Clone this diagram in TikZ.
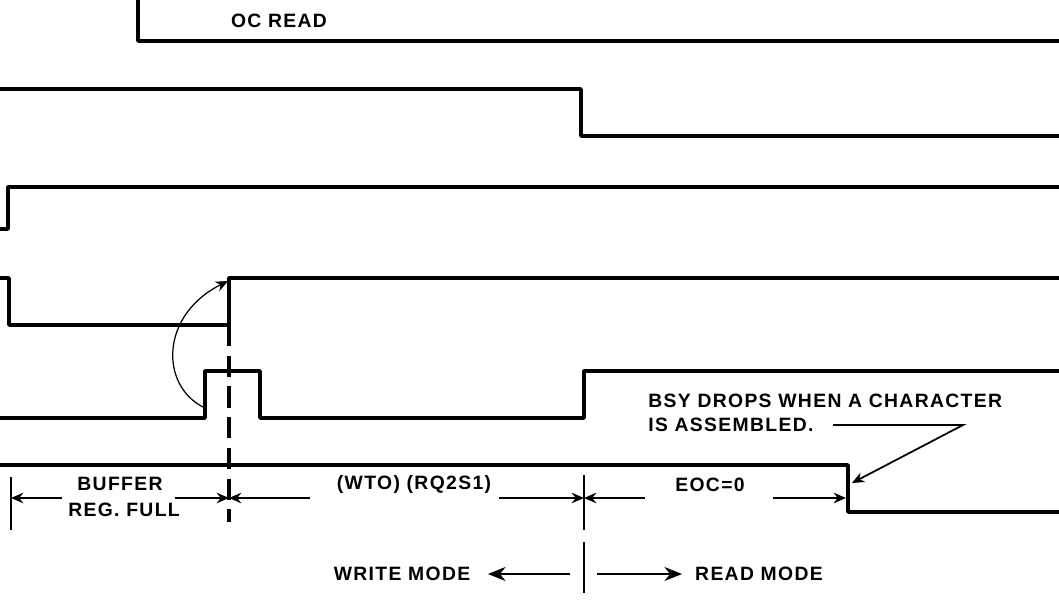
\documentclass[tikz,border=0pt]{standalone}
\usepackage{fontspec}
\setmainfont{Liberation Sans}[LetterSpace=7]
\usetikzlibrary{arrows.meta, positioning}

\begin{document}
\begin{tikzpicture}[x=0.02cm, y=-0.02cm, >={Stealth[length=7pt,width=6pt]},
  wave/.style={line width=2pt, line join=round},
  dim/.style={line width=1pt},
  modearrow/.style={line width=1pt, -{Stealth[length=10pt,width=8pt]}},
  every node/.style={font=\fontsize{11}{13}\selectfont\bfseries, inner sep=0pt}]
\useasboundingbox (0,0) rectangle (1059,602);
% signal lines
\draw[wave] (138,-2) -- (138,41) -- (1061,41);
\draw[wave] (-2,89) -- (581,89) -- (581,136) -- (1061,136);
\draw[wave] (-2,229) -- (8,229) -- (8,187) -- (1061,187);
\draw[wave] (-2,278) -- (9,278) -- (9,325) -- (229,325) -- (229,278) -- (1061,278);
\draw[wave] (-2,418) -- (205,418) -- (205,371) -- (260,371) -- (260,418) -- (584,418) -- (584,371) -- (1061,371);
\draw[wave] (-2,465) -- (848,465) -- (848,512) -- (1061,512);
\draw[wave, dash pattern=on 12pt off 5.5pt] (229,325) -- (229,522);
\node (ocread) at (279,21) {OC READ};
% cause of the rise
\coordinate (pulse) at (203,407);
\coordinate (rise) at (228,281);
\draw[line width=0.7pt, ->] (pulse) .. controls (160,385) and (160,315) .. (rise);
% intervals
\coordinate (t0) at (11,498);
\coordinate (t1) at (229,498);
\coordinate (t2) at (584,498);
\coordinate (t3) at (846,498);
\draw[dim] (11,477) -- (11,530);
\draw[dim] (584,475) -- (584,530);
\node (buf1) at (120,484) {BUFFER};
\node (buf2) at (124,510) {REG. FULL};
\node (wto) at (414,484) {(WTO) (RQ2S1)};
\node (eoc) at (710,485) {EOC=0};
\draw[dim, ->] (62,498) -- (t0);
\draw[dim, ->] (175,498) -- (t1);
\draw[dim, ->] (310,498) -- (t1);
\draw[dim, ->] (499,498) -- (t2);
\draw[dim, ->] (645,498) -- (t2);
\draw[dim, ->] (773,498) -- (t3);
% callout
\node[anchor=west] (bsy1) at (648,401) {BSY DROPS WHEN A CHARACTER};
\node[anchor=west] (bsy2) at (648,425) {IS ASSEMBLED.};
\coordinate (knee) at (963,425);
\coordinate (fall) at (852,483);
\draw[dim, ->] (833,425) -- (knee) -- (fall);
% modes
\draw[dim] (584,542) -- (584,593);
\node (write) at (402,574) {WRITE MODE};
\node (read) at (759,574) {READ MODE};
\coordinate (wtip) at (488,574);
\coordinate (rtip) at (682,574);
\draw[modearrow] (570,574) -- (wtip);
\draw[modearrow] (597,574) -- (rtip);
\end{tikzpicture}
\end{document}
